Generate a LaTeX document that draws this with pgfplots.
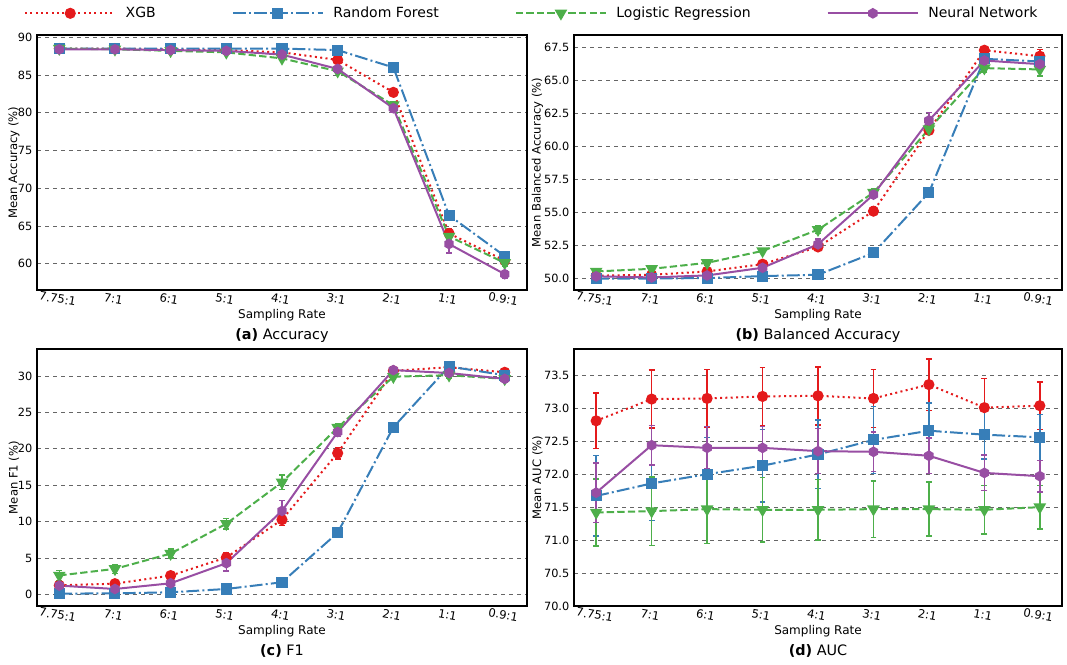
\documentclass[border=0pt]{standalone}
\usepackage{fontspec}
\setmainfont{DejaVu Sans}
\usepackage{pgfplots}
\usepackage{pgfplotstable}
\pgfplotsset{compat=1.18}

\definecolor{cxgb}{HTML}{E41A1C}
\definecolor{crf}{HTML}{377EB8}
\definecolor{clr}{HTML}{4DAF4A}
\definecolor{cnn}{HTML}{984EA3}

\pgfdeclareplotmark{hexagon*}{%
  \pgfpathmoveto{\pgfqpointpolar{90}{\pgfplotmarksize}}%
  \pgfpathlineto{\pgfqpointpolar{150}{\pgfplotmarksize}}%
  \pgfpathlineto{\pgfqpointpolar{210}{\pgfplotmarksize}}%
  \pgfpathlineto{\pgfqpointpolar{270}{\pgfplotmarksize}}%
  \pgfpathlineto{\pgfqpointpolar{330}{\pgfplotmarksize}}%
  \pgfpathlineto{\pgfqpointpolar{30}{\pgfplotmarksize}}%
  \pgfpathclose
  \pgfusepathqfillstroke}

% x: 0=7.75:1 ... 8=0.9:1
\pgfplotstableread{
x xgb xgbe rf rfe lr lre nn nne
0 88.5 0.1 88.5 0.1 88.5 0.1 88.4 0.1
1 88.5 0.1 88.5 0.1 88.4 0.1 88.4 0.1
2 88.4 0.1 88.5 0.1 88.2 0.1 88.3 0.1
3 88.3 0.1 88.5 0.1 88.0 0.2 88.2 0.2
4 88.0 0.2 88.5 0.1 87.2 0.2 87.7 0.3
5 87.0 0.3 88.3 0.2 85.5 0.3 85.8 0.4
6 82.7 0.4 86.0 0.3 81.0 0.4 80.6 0.5
7 64.0 0.6 66.4 0.3 63.6 0.5 62.6 1.2
8 60.4 0.4 61.0 0.3 60.1 0.4 58.6 0.5
}\tacc
\pgfplotstableread{
x xgb xgbe rf rfe lr lre nn nne
0 50.23 0.1 50.00 0.05 50.55 0.1 50.18 0.1
1 50.30 0.1 50.02 0.05 50.75 0.1 50.10 0.1
2 50.55 0.2 50.05 0.05 51.20 0.2 50.25 0.1
3 51.10 0.2 50.20 0.1 52.10 0.2 50.83 0.2
4 52.40 0.2 50.30 0.1 53.70 0.3 52.60 0.4
5 55.10 0.3 51.95 0.2 56.50 0.3 56.35 0.3
6 61.20 0.3 56.50 0.3 61.30 0.3 61.95 0.6
7 67.25 0.3 66.60 0.2 65.90 0.3 66.47 0.3
8 66.80 0.5 66.40 0.2 65.80 0.5 66.20 0.3
}\tbal
\pgfplotstableread{
x xgb xgbe rf rfe lr lre nn nne
0 1.24 0.4 0.10 0.1 2.6 0.7 1.20 0.5
1 1.47 0.4 0.14 0.1 3.5 0.6 0.74 0.4
2 2.58 0.5 0.28 0.2 5.6 0.6 1.52 0.5
3 5.06 0.7 0.74 0.3 9.7 0.7 4.28 1.1
4 10.26 0.8 1.66 0.4 15.4 1.0 11.46 1.4
5 19.40 0.8 8.47 0.5 22.9 0.6 22.30 0.6
6 30.70 0.4 22.96 0.5 29.9 0.4 30.80 0.4
7 31.20 0.4 31.30 0.5 30.1 0.4 30.40 0.4
8 30.50 0.5 30.10 0.4 29.6 0.4 29.60 0.4
}\tfone
\pgfplotstableread{
x xgb xgbe rf rfe lr lre nn nne
0 72.81 0.42 71.67 0.61 71.42 0.51 71.72 0.45
1 73.14 0.44 71.86 0.56 71.44 0.52 72.44 0.30
2 73.15 0.44 72.00 0.56 71.47 0.52 72.40 0.32
3 73.18 0.44 72.13 0.55 71.46 0.49 72.40 0.32
4 73.19 0.44 72.30 0.52 71.46 0.46 72.35 0.34
5 73.15 0.44 72.52 0.51 71.47 0.43 72.34 0.30
6 73.36 0.39 72.66 0.42 71.47 0.41 72.28 0.27
7 73.01 0.44 72.60 0.37 71.46 0.37 72.02 0.27
8 73.04 0.36 72.56 0.35 71.50 0.33 71.97 0.24
}\tauc

\pgfplotsset{
  panel/.style={
    scale only axis,
    xmin=-0.4, xmax=8.4,
    xtick={0,1,2,3,4,5,6,7,8},
    xticklabels={7.75:1,7:1,6:1,5:1,4:1,3:1,2:1,1:1,0.9:1},
    xticklabel style={rotate=-10, anchor=north, font=\fontsize{8.7}{10}\selectfont},
    yticklabel style={font=\fontsize{8.5}{10}\selectfont},
    /pgf/number format/assume math mode=true,
    major tick length=0pt,
    ymajorgrids,
    grid style={dashed, gray!80!black, line width=0.5pt},
    axis line style={line width=0.8pt},
    xlabel={Sampling Rate},
    xlabel style={font=\fontsize{9}{11}\selectfont, at={(axis description cs:0.5,-0.057)}, anchor=north},
    ylabel style={font=\fontsize{8.7}{10}\selectfont, anchor=center, rotate=0},
    every axis title shift=0pt,
    error bars/y dir=both,
    error bars/y explicit,
    error bars/error bar style={solid, line width=1.1pt},
    error bars/error mark options={solid, line width=1.1pt, mark size=2.2pt, rotate=90},
  },
  sxgb/.style={color=cxgb, line width=1.5pt, dash pattern=on 1.5pt off 2.5pt, mark=*, mark size=3.4pt, mark options={solid}},
  srf/.style={color=crf, line width=1.5pt, dash pattern=on 9.6pt off 2.4pt on 1.5pt off 2.4pt, mark=square*, mark size=3.4pt, mark options={solid}},
  slr/.style={color=clr, line width=1.5pt, dash pattern=on 5.5pt off 2.4pt, mark=triangle*, mark size=4pt, mark options={solid, rotate=180}},
  snn/.style={color=cnn, line width=1.5pt, solid, mark=hexagon*, mark size=3.2pt, mark options={solid}},
}

\newcommand{\fourplots}[1]{%
  \addplot[sxgb] table[x=x, y=xgb, y error=xgbe] {#1};
  \addplot[srf] table[x=x, y=rf, y error=rfe] {#1};
  \addplot[slr] table[x=x, y=lr, y error=lre] {#1};
  \addplot[snn] table[x=x, y=nn, y error=nne] {#1};
}

\begin{document}
\begin{tikzpicture}
\path[use as bounding box] (0,0) rectangle (800.25pt,-498pt);

% (a) Accuracy
\begin{axis}[panel,
  at={(27.75pt,-26.25pt)}, anchor=north west,
  width=367.5pt, height=191.25pt,
  ymin=56.5, ymax=90.3, ytick={60,65,70,75,80,85,90},
  ylabel={Mean Accuracy (\%)},
  ylabel style={at={(axis description cs:-0.047,0.5)}},
  title={\textbf{(a)} Accuracy},
  title style={font=\fontsize{10.8}{12}\selectfont, at={(axis description cs:0.5,-0.18)}, anchor=center},
  legend columns=4,
  legend style={at={(axis description cs:-0.035,1.085)}, anchor=west, draw=none, fill=none,
    font=\fontsize{10.5}{12}\selectfont,
    /tikz/every odd column/.append style={column sep=5pt},
    /tikz/every even column/.append style={column sep=55pt}},
  legend cell align=left,
  legend image code/.code={\draw[mark repeat=2,mark phase=2,#1] plot coordinates {(0cm,0cm) (1.19cm,0cm) (2.38cm,0cm)};},
]
\fourplots{\tacc}
\legend{XGB, Random Forest, Logistic Regression, Neural Network}
\end{axis}

% (b) Balanced Accuracy
\begin{axis}[panel,
  at={(430.5pt,-26.25pt)}, anchor=north west,
  width=366pt, height=191.25pt,
  ymin=49.15, ymax=68.4, ytick={50,52.5,55,57.5,60,62.5,65,67.5},
  yticklabel style={/pgf/number format/.cd, fixed, fixed zerofill, precision=1},
  ylabel={Mean Balanced Accuracy (\%)},
  ylabel style={at={(axis description cs:-0.075,0.5)}},
  title={\textbf{(b)} Balanced Accuracy},
  title style={font=\fontsize{10.8}{12}\selectfont, at={(axis description cs:0.5,-0.18)}, anchor=center},
]
\fourplots{\tbal}
\end{axis}

% (c) F1
\begin{axis}[panel,
  at={(27.75pt,-261.75pt)}, anchor=north west,
  width=367.5pt, height=192.75pt,
  ymin=-1.6, ymax=33.7, ytick={0,5,10,15,20,25,30},
  ylabel={Mean F1 (\%)},
  ylabel style={at={(axis description cs:-0.047,0.5)}},
  title={\textbf{(c)} F1},
  title style={font=\fontsize{10.8}{12}\selectfont, at={(axis description cs:0.5,-0.175)}, anchor=center},
]
\fourplots{\tfone}
\end{axis}

% (d) AUC
\begin{axis}[panel,
  at={(430.5pt,-261.75pt)}, anchor=north west,
  width=366pt, height=192.75pt,
  ymin=70, ymax=73.9, ytick={70,70.5,71,71.5,72,72.5,73,73.5},
  yticklabel style={/pgf/number format/.cd, fixed, fixed zerofill, precision=1},
  ylabel={Mean AUC (\%)},
  ylabel style={at={(axis description cs:-0.075,0.5)}},
  title={\textbf{(d)} AUC},
  title style={font=\fontsize{10.8}{12}\selectfont, at={(axis description cs:0.5,-0.175)}, anchor=center},
]
\fourplots{\tauc}
\end{axis}
\end{tikzpicture}
\end{document}
